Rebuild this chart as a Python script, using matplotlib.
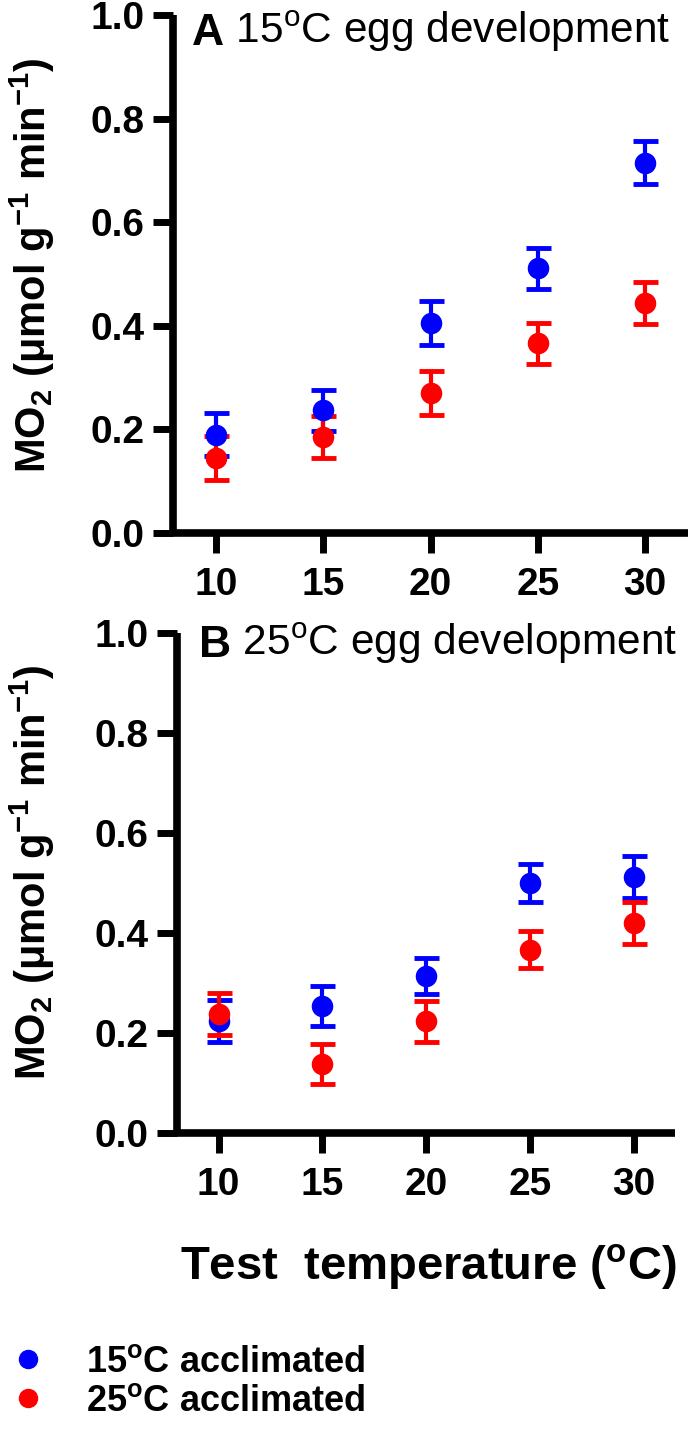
import matplotlib.pyplot as plt
from matplotlib.lines import Line2D

plt.rcParams["font.family"] = "Liberation Sans"
plt.rcParams["mathtext.fontset"] = "custom"
plt.rcParams["mathtext.rm"] = "Liberation Sans"
plt.rcParams["mathtext.bf"] = "Liberation Sans:bold"

temps = [10, 15, 20, 25, 30]

# panel A: 15 C egg development
a_acc15 = [0.190, 0.237, 0.405, 0.511, 0.715]
a_acc15_sem = [0.042, 0.040, 0.042, 0.040, 0.042]
a_acc25 = [0.145, 0.185, 0.270, 0.366, 0.444]
a_acc25_sem = [0.042, 0.040, 0.042, 0.040, 0.041]

# panel B: 25 C egg development
b_acc15 = [0.225, 0.255, 0.315, 0.500, 0.513]
b_acc15_sem = [0.042, 0.040, 0.036, 0.038, 0.042]
b_acc25 = [0.239, 0.139, 0.224, 0.367, 0.421]
b_acc25_sem = [0.042, 0.040, 0.041, 0.037, 0.042]

panel_letters = ["A", "B"]
panel_titles = [" 15$^\\mathregular{o}$C egg development",
                " 25$^\\mathregular{o}$C egg development"]
series_labels = ["15$^\\mathregular{o}$C acclimated",
                 "25$^\\mathregular{o}$C acclimated"]
colors = ["#0000ff", "#ff0000"]

W, H = 691, 1429
fig = plt.figure(figsize=(W / 100, H / 100), dpi=100)

# axes boxes in pixels: left, right, top (y=1), bottom (y=0)
boxes = [(173, 688, 15, 533), (177, 675, 633, 1133)]
title_pos = [(192, 45), (199, 657)]
ylabel_center = [265, 872]

data = [
    [(a_acc15, a_acc15_sem), (a_acc25, a_acc25_sem)],
    [(b_acc15, b_acc15_sem), (b_acc25, b_acc25_sem)],
]

for i, (l, r, t, b) in enumerate(boxes):
    ax = fig.add_axes([l / W, 1 - b / H, (r - l) / W, (b - t) / H])
    for (mean, sem), c in zip(data[i], colors):
        ax.errorbar(temps, mean, yerr=sem, fmt="o", color=c, ms=14.5,
                    elinewidth=3, capsize=9, capthick=3.5, clip_on=False)
    ax.set_xlim(8, 32)
    ax.set_ylim(0, 1.0)
    ax.set_xticks(temps)
    ax.set_yticks([0.0, 0.2, 0.4, 0.6, 0.8, 1.0])
    ax.set_yticklabels(["0.0", "0.2", "0.4", "0.6", "0.8", "1.0"])
    for s in ["top", "right"]:
        ax.spines[s].set_visible(False)
    for s in ["left", "bottom"]:
        ax.spines[s].set_linewidth(5.5)
        ax.spines[s].set_capstyle("butt")
    ax.tick_params(axis="both", length=14.5, width=5, labelsize=28)
    ax.tick_params(axis="x", pad=10)
    ax.tick_params(axis="y", pad=6)
    for lab in ax.get_xticklabels() + ax.get_yticklabels():
        lab.set_fontweight("bold")

    tx, ty = title_pos[i]
    letter = fig.text(tx / W, 1 - ty / H, panel_letters[i], fontsize=32,
                      fontweight="bold", va="baseline", ha="left")
    ax.annotate(panel_titles[i], xy=(1, 0), xycoords=letter, fontsize=30.5,
                va="bottom", ha="left", annotation_clip=False)

    fig.text(32 / W, 1 - ylabel_center[i] / H,
             "MO$_\\mathregular{2}$ ($\\mathregular{\u03bc}$mol g$^\\mathregular{-1}$ min$^\\mathregular{-1}$)",
             rotation=90, ha="center", va="center", fontsize=30,
             fontweight="bold")

fig.text(428 / W, 1 - 1279 / H, "Test  temperature ($^\\mathregular{o}$C)",
         ha="center", va="baseline", fontsize=34, fontweight="bold")

handles = [Line2D([], [], marker="o", ls="none", color=c, ms=13)
           for c in colors]
leg = fig.legend(handles, series_labels, loc="upper left",
                 bbox_to_anchor=(10 / W, 1 - 1345 / H), frameon=False,
                 borderaxespad=0, borderpad=0, handlelength=1.0,
                 handletextpad=1.1, labelspacing=0.1,
                 prop={"size": 26, "weight": "bold"})

fig.savefig("out.png", dpi=100)
